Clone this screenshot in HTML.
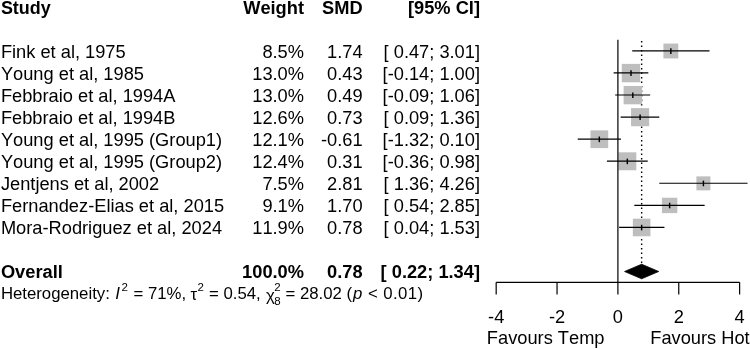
<!DOCTYPE html><html><head><meta charset="utf-8"><title>Forest plot</title><style>html,body{margin:0;padding:0;background:#fff}svg{display:block}text{font-family:"Liberation Sans",Arial,Helvetica,sans-serif;font-size:18.25px;fill:#000;white-space:pre;font-kerning:none}.b{font-weight:bold}.i{font-style:italic}.s{font-size:11.5px}</style></head><body>
<svg width="750" height="349" viewBox="0 0 750 349">
<rect width="750" height="349" fill="#fff"/>
<text class="b" x="0.9" y="13.75" style="font-size:17.95px">Study</text>
<text class="b" x="304" y="13.75" text-anchor="end">Weight</text>
<text class="b" x="362.6" y="13.75" text-anchor="end">SMD</text>
<text class="b" x="480" y="13.75" text-anchor="end">[95% CI]</text>
<text x="0.9" y="58.10">Fink et al, 1975</text>
<text x="304" y="58.10" text-anchor="end">8.5%</text>
<text x="362.6" y="58.10" text-anchor="end">1.74</text>
<text x="480" y="58.10" text-anchor="end">[ 0.47; 3.01]</text>
<text x="0.9" y="80.10">Young et al, 1985</text>
<text x="304" y="80.10" text-anchor="end">13.0%</text>
<text x="362.6" y="80.10" text-anchor="end">0.43</text>
<text x="480" y="80.10" text-anchor="end">[-0.14; 1.00]</text>
<text x="0.9" y="102.10">Febbraio et al, 1994A</text>
<text x="304" y="102.10" text-anchor="end">13.0%</text>
<text x="362.6" y="102.10" text-anchor="end">0.49</text>
<text x="480" y="102.10" text-anchor="end">[-0.09; 1.06]</text>
<text x="0.9" y="124.10">Febbraio et al, 1994B</text>
<text x="304" y="124.10" text-anchor="end">12.6%</text>
<text x="362.6" y="124.10" text-anchor="end">0.73</text>
<text x="480" y="124.10" text-anchor="end">[ 0.09; 1.36]</text>
<text x="0.9" y="146.10">Young et al, 1995 (Group1)</text>
<text x="304" y="146.10" text-anchor="end">12.1%</text>
<text x="362.6" y="146.10" text-anchor="end">-0.61</text>
<text x="480" y="146.10" text-anchor="end">[-1.32; 0.10]</text>
<text x="0.9" y="168.10">Young et al, 1995 (Group2)</text>
<text x="304" y="168.10" text-anchor="end">12.4%</text>
<text x="362.6" y="168.10" text-anchor="end">0.31</text>
<text x="480" y="168.10" text-anchor="end">[-0.36; 0.98]</text>
<text x="0.9" y="190.10">Jentjens et al, 2002</text>
<text x="304" y="190.10" text-anchor="end">7.5%</text>
<text x="362.6" y="190.10" text-anchor="end">2.81</text>
<text x="480" y="190.10" text-anchor="end">[ 1.36; 4.26]</text>
<text x="0.9" y="212.10">Fernandez-Elias et al, 2015</text>
<text x="304" y="212.10" text-anchor="end">9.1%</text>
<text x="362.6" y="212.10" text-anchor="end">1.70</text>
<text x="480" y="212.10" text-anchor="end">[ 0.54; 2.85]</text>
<text x="0.9" y="234.10">Mora-Rodriguez et al, 2024</text>
<text x="304" y="234.10" text-anchor="end">11.9%</text>
<text x="362.6" y="234.10" text-anchor="end">0.78</text>
<text x="480" y="234.10" text-anchor="end">[ 0.04; 1.53]</text>
<line x1="641.64" y1="41.0" x2="641.64" y2="264" stroke="#000" stroke-opacity="1" stroke-width="1.4" stroke-dasharray="1.4 3.1"/>
<rect x="663.41" y="43.57" width="14.87" height="14.87" fill="#bebebe"/>
<rect x="621.79" y="63.87" width="18.39" height="18.39" fill="#bebebe"/>
<rect x="623.62" y="85.93" width="18.39" height="18.39" fill="#bebebe"/>
<rect x="631.06" y="108.13" width="18.10" height="18.10" fill="#bebebe"/>
<rect x="590.47" y="130.37" width="17.74" height="17.74" fill="#bebebe"/>
<rect x="618.35" y="152.32" width="17.96" height="17.96" fill="#bebebe"/>
<rect x="696.42" y="176.38" width="13.97" height="13.97" fill="#bebebe"/>
<rect x="661.94" y="197.73" width="15.38" height="15.38" fill="#bebebe"/>
<rect x="632.84" y="218.68" width="17.59" height="17.59" fill="#bebebe"/>
<line x1="617.9" y1="39.8" x2="617.9" y2="282.3" stroke="#000" stroke-opacity="1" stroke-width="1.2"/>
<line x1="632.20" y1="50.9" x2="709.49" y2="50.9" stroke="#000" stroke-opacity="1" stroke-width="1.2"/>
<line x1="670.85" y1="48.30" x2="670.85" y2="53.90" stroke="#000" stroke-width="1.45"/>
<line x1="613.64" y1="72.96" x2="648.33" y2="72.96" stroke="#000" stroke-opacity="1" stroke-width="1.2"/>
<line x1="630.98" y1="70.36" x2="630.98" y2="75.96" stroke="#000" stroke-width="1.45"/>
<line x1="615.16" y1="95.02" x2="650.16" y2="95.02" stroke="#000" stroke-opacity="1" stroke-width="1.2"/>
<line x1="632.81" y1="92.42" x2="632.81" y2="98.02" stroke="#000" stroke-width="1.45"/>
<line x1="620.64" y1="117.07999999999998" x2="659.28" y2="117.07999999999998" stroke="#000" stroke-opacity="1" stroke-width="1.2"/>
<line x1="640.11" y1="114.48" x2="640.11" y2="120.08" stroke="#000" stroke-width="1.45"/>
<line x1="577.73" y1="139.14" x2="620.94" y2="139.14" stroke="#000" stroke-opacity="1" stroke-width="1.2"/>
<line x1="599.34" y1="136.54" x2="599.34" y2="142.14" stroke="#000" stroke-width="1.45"/>
<line x1="606.95" y1="161.2" x2="647.72" y2="161.2" stroke="#000" stroke-opacity="1" stroke-width="1.2"/>
<line x1="627.33" y1="158.60" x2="627.33" y2="164.20" stroke="#000" stroke-width="1.45"/>
<line x1="659.28" y1="183.26" x2="747.53" y2="183.26" stroke="#000" stroke-opacity="1" stroke-width="1.2"/>
<line x1="703.41" y1="180.66" x2="703.41" y2="186.26" stroke="#000" stroke-width="1.45"/>
<line x1="634.33" y1="205.32" x2="704.63" y2="205.32" stroke="#000" stroke-opacity="1" stroke-width="1.2"/>
<line x1="669.63" y1="202.72" x2="669.63" y2="208.32" stroke="#000" stroke-width="1.45"/>
<line x1="619.12" y1="227.38" x2="664.46" y2="227.38" stroke="#000" stroke-opacity="1" stroke-width="1.2"/>
<line x1="641.64" y1="224.78" x2="641.64" y2="230.38" stroke="#000" stroke-width="1.45"/>
<text class="b" x="0.9" y="277.9">Overall</text>
<text class="b" x="304" y="277.9" text-anchor="end">100.0%</text>
<text class="b" x="362.6" y="277.9" text-anchor="end">0.78</text>
<text class="b" x="480" y="277.9" text-anchor="end">[ 0.22; 1.34]</text>
<polygon points="624.59,271.5 641.64,264.2 658.68,271.5 641.64,278.8" fill="#000" stroke="#000" stroke-width="0.8"/>
<text x="0.9" y="299.30" style="font-size:16.75px">Heterogeneity:</text>
<text x="115.3" y="299.30" class="i" style="font-size:16.75px">I</text>
<text x="121.4" y="290.70" style="font-size:11.5px">2</text>
<text x="133.5" y="299.30" style="font-size:16.75px">= 71%,</text>
<text x="190.5" y="300.30" style="font-size:16.75px">τ</text>
<text x="197.5" y="290.70" style="font-size:11.5px">2</text>
<text x="209" y="299.30" style="font-size:16.75px">= 0.54,</text>
<text x="265.9" y="300.50" style="font-size:16.75px">χ</text>
<text x="274.3" y="290.70" style="font-size:11.5px">2</text>
<text x="274.3" y="305.10" style="font-size:11.5px">8</text>
<text x="285.5" y="299.30" style="font-size:16.75px">= 28.02 (</text>
<text x="353" y="299.30" class="i" style="font-size:16.75px">p</text>
<text x="368" y="299.30" style="font-size:16.75px">&lt;</text>
<text x="383.2" y="299.30" style="font-size:16.75px;letter-spacing:0.4px">0.01)</text>
<line x1="496.17999999999995" y1="282.3" x2="739.62" y2="282.3" stroke="#000" stroke-opacity="1" stroke-width="1.2"/>
<line x1="496.17999999999995" y1="282.3" x2="496.17999999999995" y2="294.5" stroke="#000" stroke-opacity="1" stroke-width="1.2"/>
<text x="496.17999999999995" y="322.7" text-anchor="middle">-4</text>
<line x1="557.04" y1="282.3" x2="557.04" y2="294.5" stroke="#000" stroke-opacity="1" stroke-width="1.2"/>
<text x="557.04" y="322.7" text-anchor="middle">-2</text>
<line x1="617.9" y1="282.3" x2="617.9" y2="294.5" stroke="#000" stroke-opacity="1" stroke-width="1.2"/>
<text x="617.9" y="322.7" text-anchor="middle">0</text>
<line x1="678.76" y1="282.3" x2="678.76" y2="294.5" stroke="#000" stroke-opacity="1" stroke-width="1.2"/>
<text x="678.76" y="322.7" text-anchor="middle">2</text>
<line x1="739.62" y1="282.3" x2="739.62" y2="294.5" stroke="#000" stroke-opacity="1" stroke-width="1.2"/>
<text x="739.62" y="322.7" text-anchor="middle">4</text>
<text x="604.5" y="344.3" text-anchor="end">Favours Temp</text>
<text x="650.3" y="344.3">Favours Hot</text>
</svg></body></html>
